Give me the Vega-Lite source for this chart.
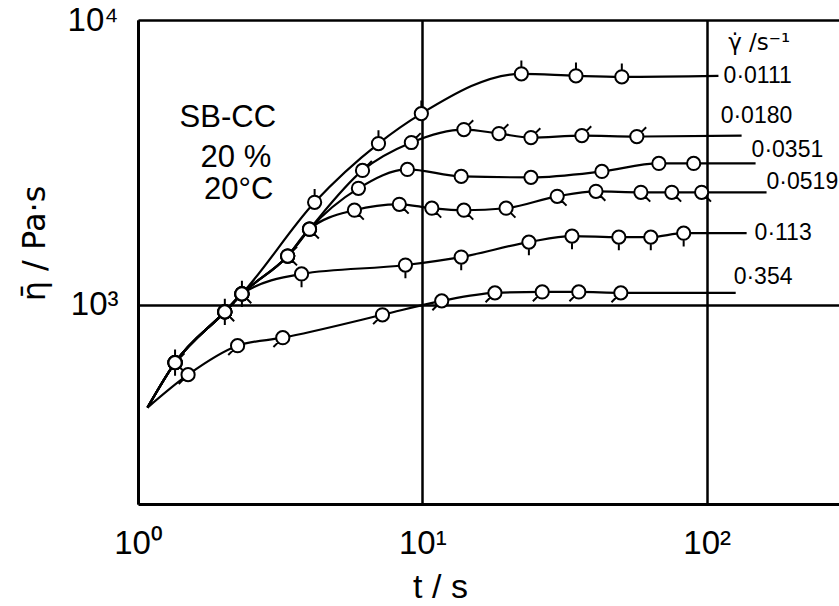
{
  "$schema": "https://vega.github.io/schema/vega-lite/v6.json",
  "width": 701,
  "height": 484,
  "autosize": {"type": "none"},
  "padding": {"left": 138, "top": 20, "right": 0, "bottom": 102},
  "background": "white",
  "config": {"view": {"stroke": null}, "font": "Liberation Sans"},
  "datasets": {
    "curves": [
      {"series": "0.0111", "t": 1.08, "eta": 436, "kind": "s"},
      {"series": "0.0111", "t": 1.35, "eta": 627, "kind": "m"},
      {"series": "0.0111", "t": 2.02, "eta": 945, "kind": "m"},
      {"series": "0.0111", "t": 2.32, "eta": 1093, "kind": "m"},
      {"series": "0.0111", "t": 4.18, "eta": 2292, "kind": "m"},
      {"series": "0.0111", "t": 7.01, "eta": 3685, "kind": "m"},
      {"series": "0.0111", "t": 9.92, "eta": 4692, "kind": "m"},
      {"series": "0.0111", "t": 22.3, "eta": 6474, "kind": "m"},
      {"series": "0.0111", "t": 34.7, "eta": 6370, "kind": "m"},
      {"series": "0.0111", "t": 50.3, "eta": 6319, "kind": "m"},
      {"series": "0.0111", "t": 110, "eta": 6370, "kind": "e"},

      {"series": "0.0180", "t": 1.08, "eta": 436, "kind": "s"},
      {"series": "0.0180", "t": 1.35, "eta": 627, "kind": "m"},
      {"series": "0.0180", "t": 2.02, "eta": 945, "kind": "m"},
      {"series": "0.0180", "t": 2.32, "eta": 1093, "kind": "m"},
      {"series": "0.0180", "t": 3.36, "eta": 1484, "kind": "m"},
      {"series": "0.0180", "t": 4.01, "eta": 1844, "kind": "m"},
      {"series": "0.0180", "t": 6.16, "eta": 2965, "kind": "m"},
      {"series": "0.0180", "t": 9.15, "eta": 3715, "kind": "m"},
      {"series": "0.0180", "t": 14.0, "eta": 4125, "kind": "m"},
      {"series": "0.0180", "t": 18.6, "eta": 3994, "kind": "m"},
      {"series": "0.0180", "t": 24.1, "eta": 3867, "kind": "m"},
      {"series": "0.0180", "t": 36.4, "eta": 3930, "kind": "m"},
      {"series": "0.0180", "t": 56.8, "eta": 3899, "kind": "m"},
      {"series": "0.0180", "t": 132.7, "eta": 3930, "kind": "e"},

      {"series": "0.0351", "t": 1.08, "eta": 436, "kind": "s"},
      {"series": "0.0351", "t": 1.35, "eta": 627, "kind": "m"},
      {"series": "0.0351", "t": 2.02, "eta": 945, "kind": "m"},
      {"series": "0.0351", "t": 2.32, "eta": 1093, "kind": "m"},
      {"series": "0.0351", "t": 3.36, "eta": 1484, "kind": "m"},
      {"series": "0.0351", "t": 4.01, "eta": 1844, "kind": "m"},
      {"series": "0.0351", "t": 5.96, "eta": 2565, "kind": "m"},
      {"series": "0.0351", "t": 8.86, "eta": 2989, "kind": "m"},
      {"series": "0.0351", "t": 13.7, "eta": 2825, "kind": "m"},
      {"series": "0.0351", "t": 24.1, "eta": 2803, "kind": "m"},
      {"series": "0.0351", "t": 42.8, "eta": 2941, "kind": "m"},
      {"series": "0.0351", "t": 67.9, "eta": 3137, "kind": "m"},
      {"series": "0.0351", "t": 90.0, "eta": 3137, "kind": "m"},
      {"series": "0.0351", "t": 148.6, "eta": 3137, "kind": "e"},

      {"series": "0.0519", "t": 1.08, "eta": 436, "kind": "s"},
      {"series": "0.0519", "t": 1.35, "eta": 627, "kind": "m"},
      {"series": "0.0519", "t": 2.02, "eta": 945, "kind": "m"},
      {"series": "0.0519", "t": 2.32, "eta": 1093, "kind": "m"},
      {"series": "0.0519", "t": 3.36, "eta": 1484, "kind": "m"},
      {"series": "0.0519", "t": 4.01, "eta": 1844, "kind": "m"},
      {"series": "0.0519", "t": 5.77, "eta": 2149, "kind": "m"},
      {"series": "0.0519", "t": 8.30, "eta": 2255, "kind": "m"},
      {"series": "0.0519", "t": 10.8, "eta": 2184, "kind": "m"},
      {"series": "0.0519", "t": 14.0, "eta": 2149, "kind": "m"},
      {"series": "0.0519", "t": 19.7, "eta": 2184, "kind": "m"},
      {"series": "0.0519", "t": 29.8, "eta": 2405, "kind": "m"},
      {"series": "0.0519", "t": 40.8, "eta": 2504, "kind": "m"},
      {"series": "0.0519", "t": 58.7, "eta": 2484, "kind": "m"},
      {"series": "0.0519", "t": 75.4, "eta": 2484, "kind": "m"},
      {"series": "0.0519", "t": 96.0, "eta": 2484, "kind": "m"},
      {"series": "0.0519", "t": 162.4, "eta": 2484, "kind": "e"},

      {"series": "0.113", "t": 1.08, "eta": 436, "kind": "s"},
      {"series": "0.113", "t": 1.35, "eta": 627, "kind": "m"},
      {"series": "0.113", "t": 2.02, "eta": 945, "kind": "m"},
      {"series": "0.113", "t": 2.32, "eta": 1093, "kind": "m"},
      {"series": "0.113", "t": 3.76, "eta": 1284, "kind": "m"},
      {"series": "0.113", "t": 8.72, "eta": 1380, "kind": "m"},
      {"series": "0.113", "t": 13.7, "eta": 1472, "kind": "m"},
      {"series": "0.113", "t": 23.7, "eta": 1661, "kind": "m"},
      {"series": "0.113", "t": 33.6, "eta": 1743, "kind": "m"},
      {"series": "0.113", "t": 49.1, "eta": 1729, "kind": "m"},
      {"series": "0.113", "t": 63.6, "eta": 1729, "kind": "m"},
      {"series": "0.113", "t": 83.0, "eta": 1785, "kind": "m"},
      {"series": "0.113", "t": 138.2, "eta": 1785, "kind": "e"},

      {"series": "0.354", "t": 1.08, "eta": 436, "kind": "s"},
      {"series": "0.354", "t": 1.50, "eta": 569, "kind": "m"},
      {"series": "0.354", "t": 2.24, "eta": 719, "kind": "m"},
      {"series": "0.354", "t": 3.23, "eta": 767, "kind": "m"},
      {"series": "0.354", "t": 7.24, "eta": 923, "kind": "m"},
      {"series": "0.354", "t": 11.7, "eta": 1033, "kind": "m"},
      {"series": "0.354", "t": 18.0, "eta": 1102, "kind": "m"},
      {"series": "0.354", "t": 26.4, "eta": 1110, "kind": "m"},
      {"series": "0.354", "t": 35.5, "eta": 1110, "kind": "m"},
      {"series": "0.354", "t": 49.9, "eta": 1102, "kind": "m"},
      {"series": "0.354", "t": 126.5, "eta": 1102, "kind": "e"}
    ],
    "labels": [
      {"label": "0·0111", "t": 114.7, "eta": 6370},
      {"label": "0·0180", "t": 112, "eta": 4617},
      {"label": "0·0351", "t": 143.9, "eta": 3483},
      {"label": "0·0519", "t": 162.4, "eta": 2693},
      {"label": "0·113", "t": 147.4, "eta": 1785},
      {"label": "0·354", "t": 124.4, "eta": 1253}
    ],
    "header": [
      {"label": "γ̇ /s⁻¹", "t": 119, "eta": 8300}
    ],
    "notes": [
      {"label": "SB-CC", "t": 2.07, "eta": 4540},
      {"label": "20 %", "t": 2.21, "eta": 3289},
      {"label": "20°C", "t": 2.26, "eta": 2524}
    ]
  },
  "encoding": {
    "x": {
      "field": "t",
      "type": "quantitative",
      "scale": {"type": "log", "domain": [1, 292], "nice": false},
      "axis": {
        "values": [1, 10, 100],
        "labelExpr": "datum.value < 5 ? '10⁰' : datum.value < 50 ? '10¹' : '10²'",
        "grid": true,
        "gridColor": "black",
        "gridWidth": 2.5,
        "gridOpacity": 1,
        "domainColor": "black",
        "domainWidth": 3,
        "ticks": false,
        "labelFont": "Liberation Sans",
        "labelFontSize": 33,
        "labelColor": "black",
        "labelPadding": 23,
        "labelFlush": false,
        "title": "t / s",
        "titleFont": "Liberation Sans",
        "titleFontSize": 34,
        "titleFontWeight": "normal",
        "titleColor": "black",
        "titleX": 302,
        "titleY": 83,
        "titleBaseline": "middle"
      }
    },
    "y": {
      "field": "eta",
      "type": "quantitative",
      "scale": {"type": "log", "domain": [200, 10000], "nice": false},
      "axis": {
        "values": [1000, 10000],
        "labelExpr": "datum.value > 5000 ? '10⁴' : '10³'",
        "grid": true,
        "gridColor": "black",
        "gridWidth": 2.5,
        "gridOpacity": 1,
        "domainColor": "black",
        "domainWidth": 3,
        "ticks": false,
        "labelFont": "Liberation Sans",
        "labelFontSize": 33,
        "labelColor": "black",
        "labelPadding": 20,
        "labelFlush": false,
        "title": "η̄ / Pa·s",
        "titleFont": "DejaVu Sans",
        "titleFontSize": 32,
        "titleFontWeight": "normal",
        "titleColor": "black",
        "titleAngle": -90,
        "titleX": -104,
        "titleY": 223,
        "titleBaseline": "middle"
      }
    }
  },
  "layer": [
    {
      "data": {"name": "curves"},
      "mark": {"type": "line", "color": "black", "strokeWidth": 2.2, "interpolate": "monotone"},
      "encoding": {"detail": {"field": "series"}}
    },
    {
      "data": {"name": "curves"},
      "transform": [{"filter": "datum.kind == 'm'"}],
      "mark": {"type": "point", "filled": true, "fill": "white", "fillOpacity": 1, "stroke": "black", "strokeWidth": 2, "opacity": 1, "size": 700},
      "encoding": {
        "shape": {
          "field": "series",
          "type": "nominal",
          "scale": {
            "domain": ["0.0111", "0.0180", "0.0351", "0.0519", "0.113", "0.354"],
            "range": [
              "M0.5,0A0.5,0.5,0,1,1,-0.5,0A0.5,0.5,0,1,1,0.5,0ZM0,-0.5L0,-1",
              "M0.5,0A0.5,0.5,0,1,1,-0.5,0A0.5,0.5,0,1,1,0.5,0ZM0.354,-0.354L0.707,-0.707",
              "M0.5,0A0.5,0.5,0,1,1,-0.5,0A0.5,0.5,0,1,1,0.5,0Z",
              "M0.5,0A0.5,0.5,0,1,1,-0.5,0A0.5,0.5,0,1,1,0.5,0ZM0.354,0.354L0.707,0.707",
              "M0.5,0A0.5,0.5,0,1,1,-0.5,0A0.5,0.5,0,1,1,0.5,0ZM0,0.5L0,1",
              "M0.5,0A0.5,0.5,0,1,1,-0.5,0A0.5,0.5,0,1,1,0.5,0ZM-0.354,0.354L-0.707,0.707"
            ]
          },
          "legend": null
        }
      }
    },
    {
      "data": {"name": "labels"},
      "mark": {"type": "text", "align": "left", "baseline": "middle", "font": "Liberation Sans", "fontSize": 23, "color": "black"},
      "encoding": {"text": {"field": "label"}}
    },
    {
      "data": {"name": "header"},
      "mark": {"type": "text", "align": "left", "baseline": "middle", "font": "DejaVu Sans", "fontSize": 23, "color": "black"},
      "encoding": {"text": {"field": "label"}}
    },
    {
      "data": {"name": "notes"},
      "mark": {"type": "text", "align": "center", "baseline": "middle", "font": "Liberation Sans", "fontSize": 31, "color": "black"},
      "encoding": {"text": {"field": "label"}}
    }
  ]
}
